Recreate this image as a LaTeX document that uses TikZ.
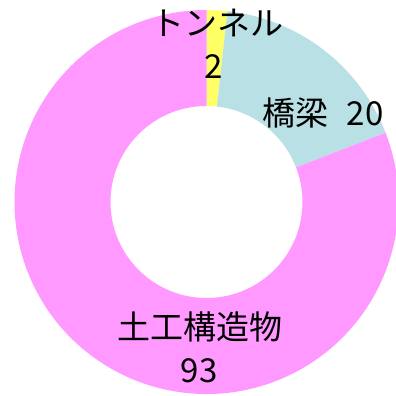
\documentclass[tikz,border=0pt]{standalone}
\usepackage{fontspec}
\newfontfamily\cjk{Noto Sans CJK JP}
\definecolor{tunnelcol}{RGB}{255,255,102}
\definecolor{bridgecol}{RGB}{185,224,228}
\definecolor{earthcol}{RGB}{255,153,255}
\tikzset{
  lbl/.style={inner sep=0pt, font=\cjk\fontsize{33}{36}\selectfont},
}
\begin{document}
\begin{tikzpicture}[x=1pt,y=1pt]
  \useasboundingbox (0,0) rectangle (396,396);
  \coordinate (c) at (206.5,194);

  % Ring segments (2, 20, 93 of 115)
  \foreach \a/\b/\col in {90/83.74/tunnelcol, 83.74/21.13/bridgecol, 21.13/-270/earthcol}
  {
    \fill[\col] ([shift={(\a:192pt)}]c) arc[start angle=\a, end angle=\b, radius=192pt]
      -- ([shift={(\b:96pt)}]c) arc[start angle=\b, end angle=\a, radius=96pt] -- cycle;
  }

  % Labels
  \node[lbl] (tunnel) at (217.5,373) {トンネル};
  \node[lbl] (tunnelval) at (214,329) {2};
  \node[lbl] (bridge) at (323,283) {橋梁\hspace{0.55em}20};
  \node[lbl] (earth) at (200,69) {土工構造物};
  \node[lbl] (earthval) at (199,25) {93};
\end{tikzpicture}
\end{document}
